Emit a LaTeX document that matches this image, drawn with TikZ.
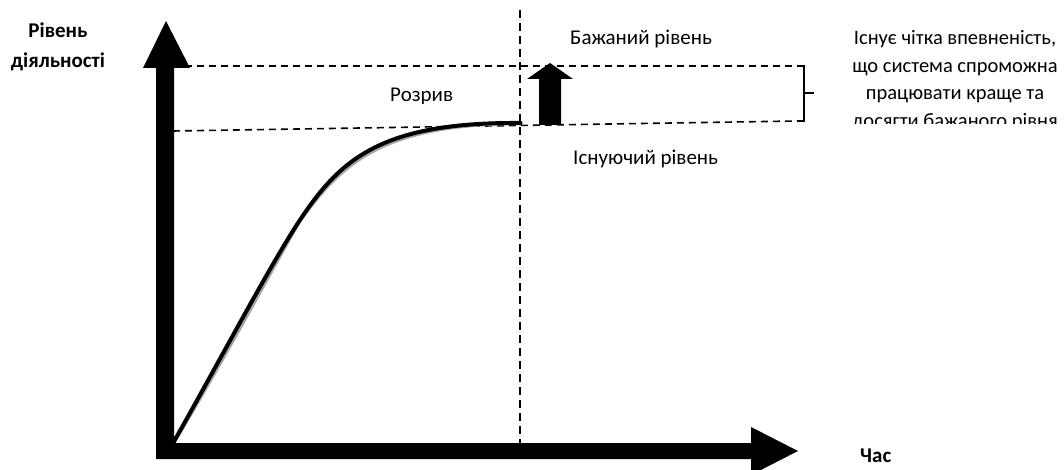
\documentclass[tikz,border=0pt]{standalone}
\usepackage{fontspec}
\setmainfont{Carlito}
\begin{document}
\begin{tikzpicture}[x=1pt,y=-1pt,
  lbl/.style={inner sep=0pt,font=\fontsize{21}{24}\selectfont},
  rtxt/.style={inner sep=0pt,anchor=base,font=\fontsize{20.5}{24}\selectfont},
  axlbl/.style={inner sep=0pt,anchor=base,font=\fontsize{21}{24}\selectfont\bfseries},
  dline/.style={dash pattern=on 7pt off 5pt,line width=1.6pt},
  vline/.style={dash pattern=on 8pt off 5pt,line width=1.2pt},
  thick arrow/.style={fill=black,draw=none}]
\useasboundingbox (0,0) rectangle (1064,470);
% coordinates
\coordinate (uL) at (173,66);
\coordinate (uR) at (797,66);
\coordinate (lL) at (173,131);
\coordinate (lR) at (797,121);
\coordinate (vT) at (520,10);
\coordinate (vB) at (520,443);
\coordinate (c0) at (172,445);
\coordinate (cm) at (300,220);
\coordinate (c3) at (520,123);
% dashed guide lines
\draw[dline] (uL) -- (uR);
\draw[dline] (lL) -- (lR);
\draw[vline] (vT) -- (vB);
% brace
\draw[line width=1.3pt] (uR) -- (804,66) -- (804,121) -- (lR);
\draw[line width=1.3pt] (804,93) -- (814,93);
% curve with shadow
\begin{scope}[shift={(2.5,2)}]
\draw[gray!70,line width=4pt,line cap=round] (c0) .. controls (220,360) and (273,260) .. (cm) .. controls (340,160) and (380,122) .. (c3);
\end{scope}
\draw[black,line width=4pt,line cap=round] (c0) .. controls (220,360) and (273,260) .. (cm) .. controls (340,160) and (380,122) .. (c3);
\fill (c3) circle (2.5pt);
% axes
\fill[thick arrow] (156,459) -- (156,68) -- (143,68) -- (166,21) -- (190,68) -- (174,68) -- (174,443) -- (751,443) -- (751,427) -- (798,451) -- (751,475) -- (751,459) -- cycle;
% up arrow
\fill[thick arrow] (539,125) -- (539,79) -- (527,79) -- (550,63) -- (573,79) -- (561,79) -- (561,125) -- cycle;
% labels
\node[axlbl] (yl1) at (58,38) {Рівень};
\node[axlbl] (yl2) at (58,68) {діяльності};
\node[axlbl,anchor=base west] (xl) at (860,462) {Час};
\begin{scope}
\clip (540,10) rectangle (760,47.5);
\node[lbl,anchor=base west] (des) at (570,45) {Бажаний рівень};
\end{scope}
\begin{scope}
\clip (370,80) rectangle (470,103.5);
\node[lbl,anchor=base west] (gap) at (390,102) {Розрив};
\end{scope}
\begin{scope}
\clip (560,140) rectangle (760,167.5);
\node[lbl,anchor=base west] (cur) at (573,165) {Існуючий рівень};
\end{scope}
\begin{scope}
\clip (820,0) rectangle (1064,123.5);
\node[rtxt] (r1) at (955,45) {Існує чітка впевненість,};
\node[rtxt] (r2) at (955,73) {що система спроможна};
\node[rtxt] (r3) at (955,100) {працювати краще та};
\node[rtxt] (r4) at (955,127.5) {досягти бажаного рівня};
\end{scope}
\end{tikzpicture}
\end{document}
